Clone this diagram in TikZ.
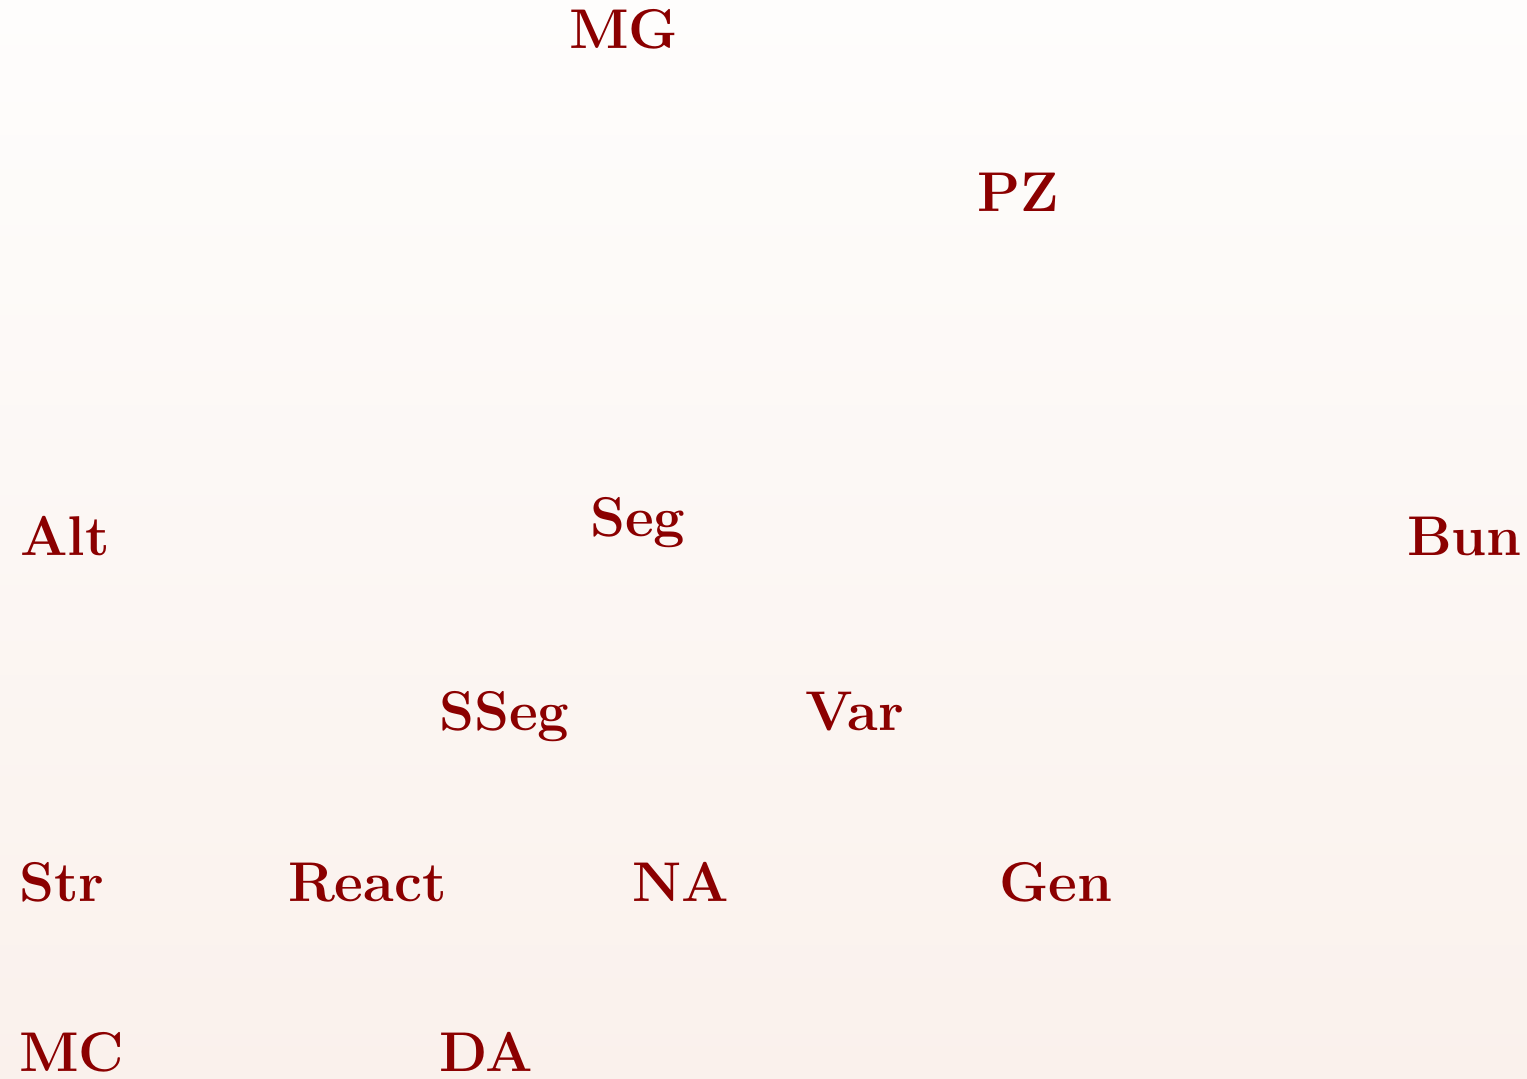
\documentclass[tikz,border=0pt]{standalone}
\usepackage{fontspec}
\setmainfont{Latin Modern Roman}
\definecolor{lbl}{RGB}{139,0,0}
\definecolor{bgtop}{RGB}{254,253,252}
\definecolor{bgbot}{RGB}{250,241,236}
\begin{document}
\begin{tikzpicture}[x=0.5pt,y=-0.5pt,
  lab/.style={anchor=base west,inner sep=0pt,outer sep=0pt,text=lbl,
    font=\fontsize{28}{33}\selectfont\bfseries}]
\shade[top color=bgtop,bottom color=bgbot] (0,0) rectangle (1527,1079);
\useasboundingbox (0,0) rectangle (1527,1079);
\node[lab] (MG) at (569,49) {MG};
\node[lab] (PZ) at (977,212) {PZ};
\node[lab] (Seg) at (590,537) {Seg};
\node[lab] (Alt) at (20,556) {Alt};
\node[lab] (Bun) at (1407,556) {Bun};
\node[lab] (SSeg) at (439,731) {SSeg};
\node[lab] (Var) at (805,731) {Var};
\node[lab] (Str) at (19,901) {Str};
\node[lab] (React) at (288,901) {React};
\node[lab] (NA) at (632,901) {NA};
\node[lab] (Gen) at (999,901) {Gen};
\node[lab] (MC) at (19,1071) {MC};
\node[lab] (DA) at (439,1071) {DA};
\end{tikzpicture}
\end{document}
